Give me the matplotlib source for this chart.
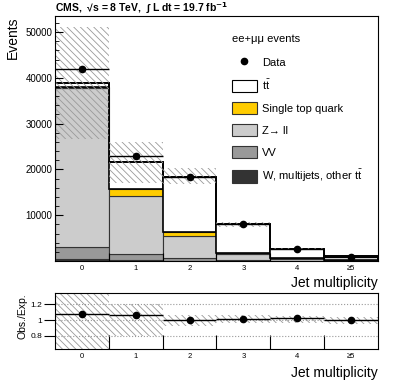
import matplotlib
matplotlib.use("Agg")
import matplotlib.pyplot as plt
from matplotlib.patches import Patch
from matplotlib.lines import Line2D
import numpy as np

plt.rcParams['font.family'] = ['Liberation Sans', 'DejaVu Sans']
plt.rcParams['mathtext.fontset'] = 'custom'
plt.rcParams['mathtext.rm'] = 'Liberation Sans'
plt.rcParams['hatch.linewidth'] = 0.6

# jet multiplicity bins
bins = ["0", "1", "2", "3", "4", "\u22655"]
data = [42000, 23000, 18400, 8100, 2650, 900]
w_other = [370, 200, 100, 60, 30, 15]
vv = [2700, 1300, 490, 190, 60, 20]
zll = [34700, 12700, 4900, 1270, 340, 110]
single_top = [300, 1450, 870, 250, 150, 80]
ttbar = [700, 5950, 12040, 6230, 2120, 880]
# total uncertainty band (low, high)
unc_lo = [26700, 17000, 16900, 7500, 2500, 1000]
unc_hi = [51100, 26000, 20400, 8500, 2900, 1200]
# ratio panel
ratio = [1.08, 1.065, 0.995, 1.016, 1.032, 1.0]
ratio_lo = [0.60, 0.80, 0.92, 0.96, 0.96, 0.95]
ratio_hi = [1.40, 1.21, 1.065, 1.065, 1.05, 1.04]

x = np.arange(len(bins))
edges = np.arange(len(bins) + 1) - 0.5

fig = plt.figure(figsize=(3.99, 3.83), dpi=100)
ax = fig.add_axes([0.1378, 0.3185, 0.8095, 0.6397])
rax = fig.add_axes([0.1378, 0.0888, 0.8095, 0.1462])

components = [
    (w_other, "#333333"),
    (vv, "#999999"),
    (zll, "#cccccc"),
    (single_top, "#ffcc00"),
]
bottom = np.zeros(len(bins))
for vals, col in components:
    ax.bar(x, vals, width=1.0, bottom=bottom, color=col, edgecolor="#333333", linewidth=0.8)
    bottom += np.array(vals)
ax.bar(x, ttbar, width=1.0, bottom=bottom, color="white", edgecolor="black", linewidth=1.2)
total = bottom + np.array(ttbar)
ax.stairs(total, edges, color="black", linewidth=1.3)

# uncertainty band
unc_lo = np.array(unc_lo)
unc_hi = np.array(unc_hi)
ax.bar(x, unc_hi - unc_lo, width=1.0, bottom=unc_lo, fill=False,
       hatch="\\\\\\\\\\", edgecolor="#999999", linewidth=0)

ax.errorbar(x, data, xerr=0.5, fmt="o", color="black", ms=4.5, elinewidth=1.0, capsize=0)

ax.set_xlim(-0.5, 5.5)
ax.set_ylim(0, 53500)
ax.set_yticks(np.arange(10000, 50001, 10000))
ax.set_yticks(np.arange(0, 53500, 2000), minor=True)
ax.tick_params(axis="y", which="major", direction="in", length=6, labelsize=7, pad=2)
ax.tick_params(axis="y", which="minor", direction="in", length=3)
ax.set_xticks(edges[1:-1])
ax.set_xticklabels([])
ax.set_xticks(x, minor=True)
ax.set_xticklabels(bins, minor=True)
ax.tick_params(axis="x", which="major", direction="in", length=6)
ax.tick_params(axis="x", which="minor", length=0, labelsize=5.5, pad=3)
ax.set_ylabel("Events", loc="top", fontsize=10, labelpad=4)
ax.set_xlabel("Jet multiplicity", loc="right", fontsize=10, labelpad=3)

ax.text(0, 1.006, "CMS,  \u221as = 8 TeV,  \u222b L dt = 19.7 fb$^{\\mathbf{-1}}$",
        transform=ax.transAxes, fontsize=7.5, fontweight="bold", ha="left", va="bottom")

# legend
ax.text(0.548, 0.907, "ee+\u03bc\u03bc events", transform=ax.transAxes, fontsize=8,
        ha="left", va="center")
handles = [
    Line2D([], [], marker="o", color="black", ls="none", ms=4.5),
    Patch(facecolor="white", edgecolor="black", linewidth=0.8),
    Patch(facecolor="#ffcc00", edgecolor="#333333", linewidth=0.8),
    Patch(facecolor="#cccccc", edgecolor="#333333", linewidth=0.8),
    Patch(facecolor="#999999", edgecolor="#333333", linewidth=0.8),
    Patch(facecolor="#333333", edgecolor="#333333", linewidth=0.8),
]
labels = ["Data", "$\\mathrm{t\\bar{t}}$", "Single top quark", "Z\u2192 ll", "VV",
          "W, multijets, other $\\mathrm{t\\bar{t}}$"]
ax.legend(handles, labels, loc="upper left", bbox_to_anchor=(0.548, 0.838),
          frameon=False, fontsize=8, handlelength=2.25, handleheight=1.35,
          labelspacing=0.86, handletextpad=0.45, borderpad=0, borderaxespad=0)

# ratio panel
for yv in [0.8, 1.0, 1.2]:
    rax.axhline(yv, color="#999999", linestyle=":", linewidth=0.8)
ratio_lo = np.array(ratio_lo)
ratio_hi = np.array(ratio_hi)
rax.bar(x, ratio_hi - ratio_lo, width=1.0, bottom=ratio_lo, fill=False,
        hatch="\\\\\\\\\\", edgecolor="#999999", linewidth=0)
rax.errorbar(x, ratio, xerr=0.5, fmt="o", color="black", ms=4.5, elinewidth=1.0, capsize=0)
rax.set_xlim(-0.5, 5.5)
rax.set_ylim(0.63, 1.345)
rax.set_yticks([0.8, 1.0, 1.2])
rax.set_yticklabels(["0.8", "1", "1.2"])
rax.tick_params(axis="y", direction="out", length=8, labelsize=6, pad=1)
rax.set_xticks(edges[1:-1])
rax.set_xticklabels([])
rax.set_xticks(x, minor=True)
rax.set_xticklabels(bins, minor=True)
rax.tick_params(axis="x", which="major", direction="in", length=10)
rax.tick_params(axis="x", which="minor", length=0, labelsize=5.5, pad=3)
rax.set_ylabel("Obs./Exp.", loc="top", fontsize=7.5, labelpad=2)
rax.set_xlabel("Jet multiplicity", loc="right", fontsize=10, labelpad=4)

fig.savefig("out.png", dpi=100)
